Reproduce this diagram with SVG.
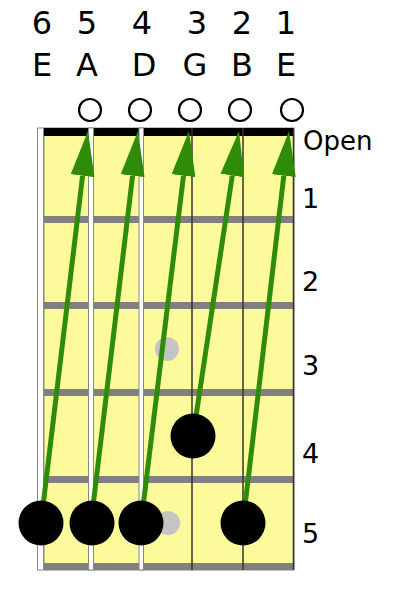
<svg xmlns="http://www.w3.org/2000/svg" width="400" height="591" viewBox="0 0 400 591">
<style>
text{font-family:"DejaVu Sans","Liberation Sans",sans-serif;font-size:27px;fill:#000}
.lbl{text-anchor:middle;font-size:32px}
.fret{fill:#808080}
.wstr{fill:#fff;stroke:#888;stroke-width:1}
.pstr{stroke:#333;stroke-width:1.5}
.open{fill:#fff;stroke:#000;stroke-width:2.2}
.inlay{fill:#c4c4c4}
.finger{fill:#000}
.arr{stroke:#2f8c08;stroke-width:5;marker-end:url(#ah)}
</style>
<defs>
<marker id="ah" markerUnits="userSpaceOnUse" viewBox="0 -12 45 24" refX="0" refY="0" markerWidth="45" markerHeight="24" orient="auto">
<path d="M0,-12 L45,0 L0,12 Z" fill="#2f8c08"/>
</marker>
</defs>
<rect width="400" height="591" fill="#fff"/>
<g id="labels">
<text class="lbl" x="42" y="34">6</text>
<text class="lbl" x="87" y="34">5</text>
<text class="lbl" x="142" y="34">4</text>
<text class="lbl" x="197" y="34">3</text>
<text class="lbl" x="242" y="34">2</text>
<text class="lbl" x="286" y="34">1</text>
<text class="lbl" x="42" y="76">E</text>
<text class="lbl" x="87" y="76">A</text>
<text class="lbl" x="144" y="76">D</text>
<text class="lbl" x="195" y="76">G</text>
<text class="lbl" x="242" y="76">B</text>
<text class="lbl" x="286" y="76">E</text>
<text x="303" y="150" style="font-size:26px">Open</text>
<text x="302" y="208">1</text>
<text x="302" y="291">2</text>
<text x="302" y="375">3</text>
<text x="302" y="463">4</text>
<text x="302" y="543">5</text>
</g>
<g id="board">
<rect x="44" y="128" width="250" height="442" fill="#fdfa9c" stroke="#888" stroke-width="1"/>
<rect x="44" y="128" width="250" height="8" fill="#000"/>
<rect class="fret" x="44" y="216" width="250" height="7"/>
<rect class="fret" x="44" y="302" width="250" height="7"/>
<rect class="fret" x="44" y="389" width="250" height="7"/>
<rect class="fret" x="44" y="476" width="250" height="7"/>
<rect class="fret" x="37" y="563" width="257" height="7"/>
</g>
<g id="strings">
<rect class="wstr" x="37.5" y="128" width="6" height="442"/>
<rect class="wstr" x="88.5" y="128" width="5" height="442"/>
<rect class="wstr" x="139" y="128" width="4.5" height="442"/>
<line class="pstr" x1="192" y1="128" x2="192" y2="570"/>
<line class="pstr" x1="243" y1="128" x2="243" y2="570"/>
<line class="pstr" x1="293.5" y1="128" x2="293.5" y2="570"/>
</g>
<g id="open-markers">
<circle class="open" cx="90" cy="110" r="11"/>
<circle class="open" cx="140" cy="110" r="11"/>
<circle class="open" cx="190" cy="110" r="11"/>
<circle class="open" cx="240" cy="110" r="11"/>
<circle class="open" cx="292" cy="110" r="11"/>
</g>
<g id="inlays">
<circle class="inlay" cx="167" cy="349" r="12"/>
<circle class="inlay" cx="168" cy="523" r="12"/>
</g>
<g id="connectors">
<line class="arr" x1="41" y1="523" x2="82.6" y2="175.7"/>
<line class="arr" x1="91" y1="523" x2="132.6" y2="175.7"/>
<line class="arr" x1="141" y1="523" x2="183.5" y2="175.7"/>
<line class="arr" x1="193" y1="436" x2="232.3" y2="175.5"/>
<line class="arr" x1="243" y1="523" x2="283.8" y2="175.7"/>
</g>
<g id="fingers">
<circle id="f6" class="finger" cx="41" cy="523" r="22.5"/>
<circle id="f5" class="finger" cx="92" cy="523" r="22.5"/>
<circle id="f4" class="finger" cx="141" cy="523" r="22.5"/>
<circle id="f3" class="finger" cx="193" cy="436" r="22.5"/>
<circle id="f2" class="finger" cx="243" cy="523" r="22.5"/>
</g>
</svg>
